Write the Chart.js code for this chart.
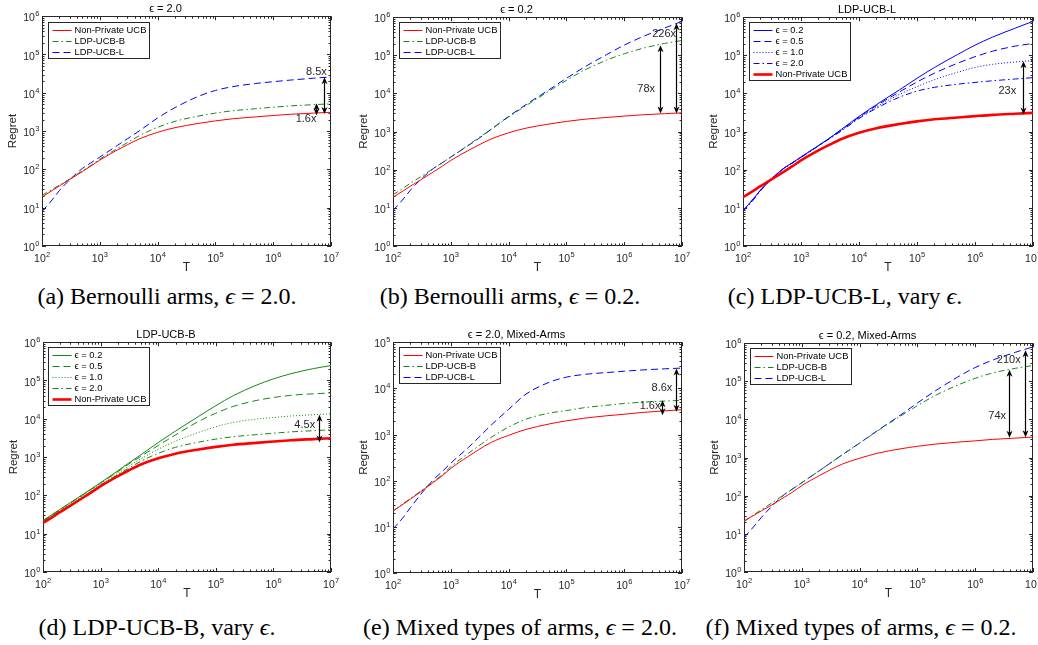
<!DOCTYPE html>
<html lang="en">
<head>
<meta charset="UTF-8">
<title>Regret vs T</title>
<script src="https://cdn.jsdelivr.net/npm/chart.js@4.4.0/dist/chart.umd.min.js"></script>
<style>
  html, body { margin: 0; padding: 0; background: #fff; overflow: hidden; }
  body { width: 1038px; height: 645px; position: relative; }
  canvas { position: absolute; }
  .cap { position: absolute; font-family: "Liberation Serif", "Times New Roman", serif; font-size: 24px;
         color: #000; white-space: nowrap; transform: translate(-50%, -50%); }
</style>
</head>
<body>
<div class="cap" style="left:167px; top:296px">(a) Bernoulli arms, <i>ϵ</i> = 2.0.</div>
<div class="cap" style="left:510px; top:296px">(b) Bernoulli arms, <i>ϵ</i> = 0.2.</div>
<div class="cap" style="left:845px; top:296px">(c) LDP-UCB-L, vary <i>ϵ</i>.</div>
<div class="cap" style="left:157px; top:627px">(d) LDP-UCB-B, vary <i>ϵ</i>.</div>
<div class="cap" style="left:520px; top:627px">(e) Mixed types of arms, <i>ϵ</i> = 2.0.</div>
<div class="cap" style="left:861px; top:627px">(f) Mixed types of arms, <i>ϵ</i> = 0.2.</div>

<script>
// horizon T (x axis) shared by every curve
const T = [1e2, 1.5e2, 2e2, 3e2, 5e2, 7e2, 1e3, 2e3, 3e3, 5e3, 1e4, 2e4, 5e4, 1e5, 2e5, 5e5, 1e6, 2e6, 5e6, 1e7];

// regret, Bernoulli arms
const ucbBern    = [19, 28, 37, 54, 88, 122, 175, 320, 440, 640, 930, 1230, 1580, 1850, 2100, 2350, 2550, 2750, 2950, 3100];
const ldpB_eps02 = [22, 33, 44, 65, 108, 150, 215, 440, 680, 1150, 2400, 4800, 11500, 22000, 40000, 75000, 110000, 150000, 205000, 245000];
const ldpB_eps05 = [22, 32, 43, 63, 105, 146, 210, 420, 640, 1050, 2000, 3800, 8500, 14000, 21000, 30000, 36000, 41000, 45000, 47000];
const ldpB_eps1  = [21, 31, 41, 60, 100, 138, 200, 380, 560, 900, 1600, 2600, 4400, 6200, 8000, 9800, 10800, 11800, 12800, 13500];
const ldpB_eps2  = [21, 30, 39, 56, 92, 127, 185, 350, 500, 780, 1250, 1800, 2450, 2950, 3400, 3850, 4200, 4550, 4900, 5150];
const ldpL_eps02 = [8.5, 17, 29, 55, 108, 150, 215, 430, 650, 1150, 2500, 5100, 12500, 25000, 48000, 105000, 185000, 300000, 520000, 780000];
const ldpL_eps05 = [8.5, 17, 29, 55, 108, 150, 215, 430, 650, 1120, 2400, 4800, 11000, 20000, 34000, 62000, 92000, 128000, 175000, 205000];
const ldpL_eps1  = [8.5, 17, 29, 55, 108, 150, 215, 425, 640, 1100, 2300, 4400, 9500, 15000, 23000, 36000, 48000, 58000, 67000, 73000];
const ldpL_eps2  = [8, 16, 28, 53, 106, 148, 210, 420, 630, 1050, 2200, 4100, 8000, 11500, 14500, 17500, 19500, 21500, 24000, 26000];

// regret, mixed types of arms
const ucbMixed   = [22, 31, 40, 57, 92, 126, 185, 335, 465, 675, 960, 1290, 1690, 1980, 2250, 2550, 2750, 3000, 3250, 3450];
const mixB_eps2  = [22, 32, 41, 59, 96, 132, 200, 390, 560, 870, 1450, 2150, 2900, 3300, 3800, 4300, 4700, 5000, 5300, 5500];
const mixL_eps2  = [9, 16, 26, 50, 105, 155, 240, 520, 850, 1600, 3500, 7500, 13500, 17500, 20000, 22000, 23500, 25000, 26500, 27500];
const mixB_eps02 = [21, 32, 43, 64, 108, 152, 220, 450, 690, 1180, 2400, 4900, 12000, 23000, 42000, 80000, 120000, 165000, 220000, 260000];
const mixL_eps02 = [8, 16, 27, 52, 108, 152, 220, 450, 690, 1180, 2400, 5000, 12800, 27000, 55000, 130000, 230000, 360000, 580000, 800000];

// ratio arrows: [T, upper regret, lower regret, text, text T, text regret]
const arrowsA = [[7.6e6, 25500, 2800, '8.5x', 5.6e6, 36000], [5.5e6, 5300, 2600, '1.6x', 3.7e6, 2100]];
const arrowsB = [[4.1e6, 185000, 3000, '78x', 2.4e6, 13500], [7.9e6, 690000, 3000, '226x', 4.9e6, 370000]];
const arrowsC = [[6.6e6, 70000, 2800, '23x', 3.6e6, 11300]];
const arrowsD = [[6.3e6, 12800, 2400, '4.5x', 3.5e6, 6700]];
const arrowsE = [[8.0e6, 27000, 3100, '8.6x', 4.5e6, 10000], [4.5e6, 5500, 2600, '1.6x', 2.8e6, 4100]];
const arrowsF = [[3.8e6, 200000, 3300, '74x', 2.4e6, 12600], [7.4e6, 650000, 3400, '210x', 3.8e6, 363000]];

const FONT = '"Liberation Sans", Arial, Helvetica, sans-serif';
const INK = '#262626';
const RED = '#ff0000', GREEN = '#138a13', BLUE = '#0000ff';
const DASH = { solid: [], dash: [7, 4], dot: [1, 2], dashdot: [6, 3, 1.5, 3] };

// plot box [left, top, right, bottom] in page pixels
const panels = [
  { box: [42, 16, 331, 246], yMax: 1e6, title: 'ϵ = 2.0', legend: [6, 6], arrows: arrowsA,
    lines: [['Non-Private UCB', ucbBern, RED, 'solid', 1], ['LDP-UCB-B', ldpB_eps2, GREEN, 'dashdot', 1], ['LDP-UCB-L', ldpL_eps2, BLUE, 'dash', 1]] },
  { box: [393, 17, 682, 246], yMax: 1e6, title: 'ϵ = 0.2', legend: [6, 5], arrows: arrowsB,
    lines: [['Non-Private UCB', ucbBern, RED, 'solid', 1], ['LDP-UCB-B', ldpB_eps02, GREEN, 'dashdot', 1], ['LDP-UCB-L', ldpL_eps02, BLUE, 'dash', 1]] },
  { box: [743, 17, 1033, 246], yMax: 1e6, title: 'LDP-UCB-L', legend: [6, 5], arrows: arrowsC,
    lines: [['ϵ = 0.2', ldpL_eps02, BLUE, 'solid', 1], ['ϵ = 0.5', ldpL_eps05, BLUE, 'dash', 1], ['ϵ = 1.0', ldpL_eps1, BLUE, 'dot', 1],
            ['ϵ = 2.0', ldpL_eps2, BLUE, 'dashdot', 1], ['Non-Private UCB', ucbBern, RED, 'solid', 2.6]] },
  { box: [43, 342, 331, 572], yMax: 1e6, title: 'LDP-UCB-B', legend: [5, 5], arrows: arrowsD,
    lines: [['ϵ = 0.2', ldpB_eps02, GREEN, 'solid', 1], ['ϵ = 0.5', ldpB_eps05, GREEN, 'dash', 1], ['ϵ = 1.0', ldpB_eps1, GREEN, 'dot', 1],
            ['ϵ = 2.0', ldpB_eps2, GREEN, 'dashdot', 1], ['Non-Private UCB', ucbBern, RED, 'solid', 2.6]] },
  { box: [393, 342, 682, 573], yMax: 1e5, title: 'ϵ = 2.0, Mixed-Arms', legend: [6, 5], arrows: arrowsE,
    lines: [['Non-Private UCB', ucbMixed, RED, 'solid', 1], ['LDP-UCB-B', mixB_eps2, GREEN, 'dashdot', 1], ['LDP-UCB-L', mixL_eps2, BLUE, 'dash', 1]] },
  { box: [744, 343, 1033, 572], yMax: 1e6, title: 'ϵ = 0.2, Mixed-Arms', legend: [6, 5], arrows: arrowsF,
    lines: [['Non-Private UCB', ucbMixed, RED, 'solid', 1], ['LDP-UCB-B', mixB_eps02, GREEN, 'dashdot', 1], ['LDP-UCB-L', mixL_eps02, BLUE, 'dash', 1]] }
];

const decades = s => {
  const out = [];
  for (let e = Math.round(Math.log10(s.min)); e <= Math.round(Math.log10(s.max)); e++) out.push(e);
  return out;
};

// matlab style box with inward ticks on all four sides
const frame = {
  id: 'frame',
  beforeDatasetsDraw(chart) {
    const { ctx, chartArea: a, scales: { x, y } } = chart;
    const marks = s => {
      const out = [];
      const ds = decades(s);
      ds.forEach((e, i) => {
        if (i === ds.length - 1) { out.push([Math.pow(10, e), true]); return; }
        for (let k = 1; k < 10; k++) out.push([k * Math.pow(10, e), k === 1]);
      });
      return out;
    };
    ctx.save();
    ctx.strokeStyle = INK;
    ctx.lineWidth = 1;
    ctx.beginPath();
    for (const [v, major] of marks(x)) {
      const px = Math.round(x.getPixelForValue(v)) + 0.5, len = major ? 4 : 2.5;
      ctx.moveTo(px, a.bottom); ctx.lineTo(px, a.bottom - len);
      ctx.moveTo(px, a.top); ctx.lineTo(px, a.top + len);
    }
    for (const [v, major] of marks(y)) {
      const py = Math.round(y.getPixelForValue(v)) + 0.5, len = major ? 4 : 2.5;
      ctx.moveTo(a.left, py); ctx.lineTo(a.left + len, py);
      ctx.moveTo(a.right, py); ctx.lineTo(a.right - len, py);
    }
    ctx.stroke();
    ctx.strokeRect(Math.round(a.left) + 0.5, Math.round(a.top) + 0.5, Math.round(a.right - a.left) - 1, Math.round(a.bottom - a.top) - 1);
    ctx.restore();
  }
};

// 10^n tick labels with a raised exponent
const powTicks = {
  id: 'powTicks',
  afterDraw(chart) {
    const { ctx, chartArea: a, scales: { x, y } } = chart;
    const BASE = '10.5px ' + FONT, EXP = '7.5px ' + FONT;
    const put = (e, px, py, align) => {
      const ex = String(e);
      ctx.font = BASE;
      const wb = ctx.measureText('10').width;
      ctx.font = EXP;
      const we = ctx.measureText(ex).width;
      const left = align === 'center' ? px - (wb + we) / 2 : px - wb - we;
      ctx.font = BASE;
      ctx.fillText('10', left, py);
      ctx.font = EXP;
      ctx.fillText(ex, left + wb + 0.3, py - 5);
    };
    ctx.save();
    ctx.fillStyle = INK;
    ctx.textBaseline = 'alphabetic';
    ctx.textAlign = 'left';
    decades(x).forEach(e => put(e, x.getPixelForValue(Math.pow(10, e)), a.bottom + 16, 'center'));
    decades(y).forEach(e => put(e, a.left - 3, y.getPixelForValue(Math.pow(10, e)) + 5, 'right'));
    ctx.restore();
  }
};

// boxed legend inside the upper left corner of the plot
const boxLegend = {
  id: 'boxLegend',
  afterDatasetsDraw(chart, args, opts) {
    const { ctx, chartArea: a } = chart;
    const sets = chart.data.datasets;
    const rowH = 11, sample = 19;
    ctx.save();
    ctx.font = '9.4px ' + FONT;
    const textW = Math.max(...sets.map(d => ctx.measureText(d.label).width));
    const x0 = Math.round(a.left + opts.dx) + 0.5, y0 = Math.round(a.top + opts.dy) + 0.5;
    const w = Math.round(4 + sample + 3 + textW + 3), h = Math.round(rowH * sets.length + 3);
    ctx.fillStyle = '#fff';
    ctx.fillRect(x0, y0, w, h);
    ctx.strokeStyle = INK;
    ctx.lineWidth = 1;
    ctx.strokeRect(x0, y0, w, h);
    sets.forEach((d, i) => {
      const cy = Math.round(y0 + 1.5 + rowH * (i + 0.5)) + 0.5;
      ctx.beginPath();
      ctx.setLineDash(d.borderDash);
      ctx.strokeStyle = d.borderColor;
      ctx.lineWidth = d.borderWidth;
      ctx.moveTo(x0 + 4, cy);
      ctx.lineTo(x0 + 4 + sample, cy);
      ctx.stroke();
      ctx.setLineDash([]);
      ctx.fillStyle = '#000';
      ctx.textBaseline = 'middle';
      ctx.fillText(d.label, x0 + 4 + sample + 3, cy);
    });
    ctx.restore();
  }
};

// double headed arrows with the ratio text
const ratioArrows = {
  id: 'ratioArrows',
  afterDatasetsDraw(chart, args, opts) {
    const { ctx, scales: { x, y } } = chart;
    ctx.save();
    ctx.strokeStyle = '#000';
    ctx.lineWidth = 1.2;
    const head = (px, py, dir) => {
      ctx.beginPath();
      ctx.moveTo(px, py);
      ctx.lineTo(px - 3, py + dir * 7);
      ctx.lineTo(px, py + dir * 5);
      ctx.lineTo(px + 3, py + dir * 7);
      ctx.closePath();
      ctx.fillStyle = '#000';
      ctx.fill();
    };
    for (const [t, hi, lo, text, tt, ty] of opts.items) {
      const px = Math.round(x.getPixelForValue(t)) + 0.5;
      const y1 = y.getPixelForValue(hi), y2 = y.getPixelForValue(lo);
      ctx.beginPath();
      ctx.moveTo(px, y1 + 5);
      ctx.lineTo(px, y2 - 5);
      ctx.stroke();
      head(px, y1, 1);
      head(px, y2, -1);
      ctx.font = '11px ' + FONT;
      ctx.fillStyle = INK;
      ctx.textAlign = 'center';
      ctx.textBaseline = 'middle';
      ctx.fillText(text, x.getPixelForValue(tt), y.getPixelForValue(ty));
    }
    ctx.restore();
  }
};

const Y_AXIS_W = 42, X_AXIS_H = 30, TOP_H = 17, RIGHT_PAD = 12;

panels.forEach(p => {
  const [L, Tp, R, B] = p.box;
  const cv = document.createElement('canvas');
  cv.width = (R - L) + Y_AXIS_W + RIGHT_PAD;
  cv.height = (B - Tp) + TOP_H + X_AXIS_H;
  cv.style.left = (L - Y_AXIS_W) + 'px';
  cv.style.top = (Tp - TOP_H) + 'px';
  document.body.appendChild(cv);

  const datasets = p.lines.map(([label, vals, color, dash, width], i) => ({
    label,
    data: T.map((t, k) => ({ x: t, y: vals[k] })),
    borderColor: color,
    borderDash: DASH[dash],
    borderWidth: width,
    pointRadius: 0,
    cubicInterpolationMode: 'monotone',
    order: label === 'Non-Private UCB' ? 0 : i + 1
  }));

  new Chart(cv, {
    type: 'line',
    data: { datasets },
    plugins: [frame, boxLegend, ratioArrows, powTicks],
    options: {
      responsive: false,
      animation: false,
      events: [],
      layout: { padding: { top: 3, right: RIGHT_PAD, bottom: 0, left: 0 } },
      plugins: {
        legend: { display: false },
        tooltip: { enabled: false },
        title: { display: true, text: p.title, color: '#000', font: { family: FONT, size: 11, weight: 'normal' }, padding: { top: 0, bottom: 1 } },
        boxLegend: { dx: p.legend[0], dy: p.legend[1] },
        ratioArrows: { items: p.arrows }
      },
      scales: {
        x: {
          type: 'logarithmic', min: 1e2, max: 1e7,
          afterFit: s => { s.height = X_AXIS_H; },
          grid: { display: false, drawTicks: false },
          border: { display: false },
          ticks: { display: false },
          title: { display: true, text: 'T', color: INK, font: { family: FONT, size: 12 }, padding: { top: 0, bottom: 1 } }
        },
        y: {
          type: 'logarithmic', min: 1, max: p.yMax,
          afterFit: s => { s.width = Y_AXIS_W; },
          grid: { display: false, drawTicks: false },
          border: { display: false },
          ticks: { display: false },
          title: { display: true, text: 'Regret', color: INK, font: { family: FONT, size: 11.5 }, padding: { top: 6, bottom: 0 } }
        }
      }
    }
  });
});
</script>
</body>
</html>
